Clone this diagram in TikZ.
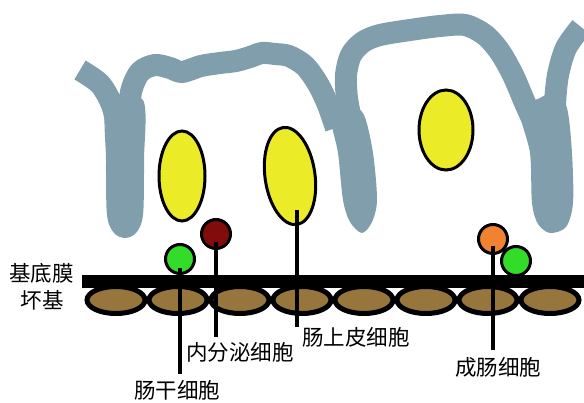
\documentclass[tikz,border=0pt]{standalone}
\usepackage{fontspec}
\newfontfamily\cjk{Noto Sans CJK SC}
\usetikzlibrary{calc}
\definecolor{villus}{RGB}{128,158,172}
\definecolor{nucleus}{RGB}{235,235,40}
\definecolor{matrix}{RGB}{150,118,60}
\definecolor{stemgreen}{RGB}{50,220,40}
\definecolor{endored}{RGB}{130,12,12}
\definecolor{progorange}{RGB}{240,130,50}
\begin{document}
\begin{tikzpicture}[x=1pt,y=-1pt,
  wall/.style={draw=villus,line width=22pt,line join=round,line cap=butt},
  stalk/.style={fill=villus},
  nuc/.style={draw=black,line width=3pt,fill=nucleus},
  ecm/.style={draw=black,line width=5pt,fill=matrix},
  cell/.style={circle,draw=black,line width=3pt,minimum size=29pt,inner sep=0pt},
  lead/.style={draw=black,line width=4pt},
  lbl/.style={font=\cjk\fontsize{21.5pt}{21.5pt}\selectfont,inner sep=0pt,anchor=base}]
\useasboundingbox (0,0) rectangle (584,403);

% villus walls
\fill[stalk] plot[smooth cycle] coordinates {(107,100) (106,160) (107,215) (114,233) (125,238) (136,233) (143,215) (144,160) (143,100)};
\fill[stalk] plot[smooth cycle] coordinates {(331,115) (338,153) (343,200) (350,222) (362,233) (372,222) (377,200) (373,153) (364,115) (350,105)};
\fill[stalk] plot[smooth cycle] coordinates {(520,110) (530,153) (532,203) (538,224) (550,233) (566,227) (573,203) (572,153) (567,108) (555,92) (540,98)};
\draw[wall] plot[smooth] coordinates {(80,70) (100,84) (112,105) (118,130)};
\draw[wall] plot[smooth] coordinates {(128,125) (131,92) (140,72) (155,65) (170,68) (182,72) (201,66) (220,63) (236,61) (250,57) (262,53) (275,54) (289,56) (305,66) (318,84) (328,105) (336,128)};
\draw[wall] plot[smooth] coordinates {(352,125) (347,98) (346,75) (351,55) (363,42) (380,35) (410,30) (440,26) (465,25) (485,35) (500,52) (513,75) (525,103) (535,125)};
\draw[wall] plot[smooth] coordinates {(581,27) (566,48) (558,75) (555,105) (556,135)};

% nuclei
\draw[nuc] (182,176) ellipse [x radius=23pt,y radius=45pt];
\draw[nuc,shift={(290,176)},rotate=8] (0,0) ellipse [x radius=25pt,y radius=49pt];
\draw[nuc] (446,130) ellipse [x radius=27pt,y radius=40pt];
\coordinate (n2) at (297,210);

% matrix beneath the membrane
\foreach \i in {0,...,7}
  \draw[ecm] (116+62*\i,300) ellipse [x radius=29pt,y radius=13.5pt];
% basement membrane
\fill[black] (82,275) rectangle (584,288);

% cells on the membrane
\node[cell,fill=stemgreen] (g1) at (180,259) {};
\node[cell,fill=endored] (r1) at (216,234) {};
\node[cell,fill=progorange] (o1) at (493,239) {};
\node[cell,fill=stemgreen] (g2) at (516,261) {};

% labels
\node[lbl] (bm) at (41.5,282) {基底膜};
\node[lbl] (mx) at (42,309) {坏基};
\node[lbl] (l1) at (177,399) {肠干细胞};
\node[lbl] (l2) at (240,361) {内分泌细胞};
\node[lbl] (l3) at (356,346) {肠上皮细胞};
\node[lbl] (l4) at (498,376) {成肠细胞};

% leader lines
\draw[lead] ([yshift=-9pt]g1.center) -- ([yshift=7pt]g1.center |- l1.north);
\draw[lead] ([yshift=-8pt]r1.center) -- ([yshift=6pt]r1.center |- l2.north);
\draw[lead] (n2) -- ([yshift=1pt]n2 |- l3.north);
\draw[lead] ([yshift=-7pt]o1.center) -- ([yshift=8pt]o1.center |- l4.north);
\end{tikzpicture}
\end{document}
